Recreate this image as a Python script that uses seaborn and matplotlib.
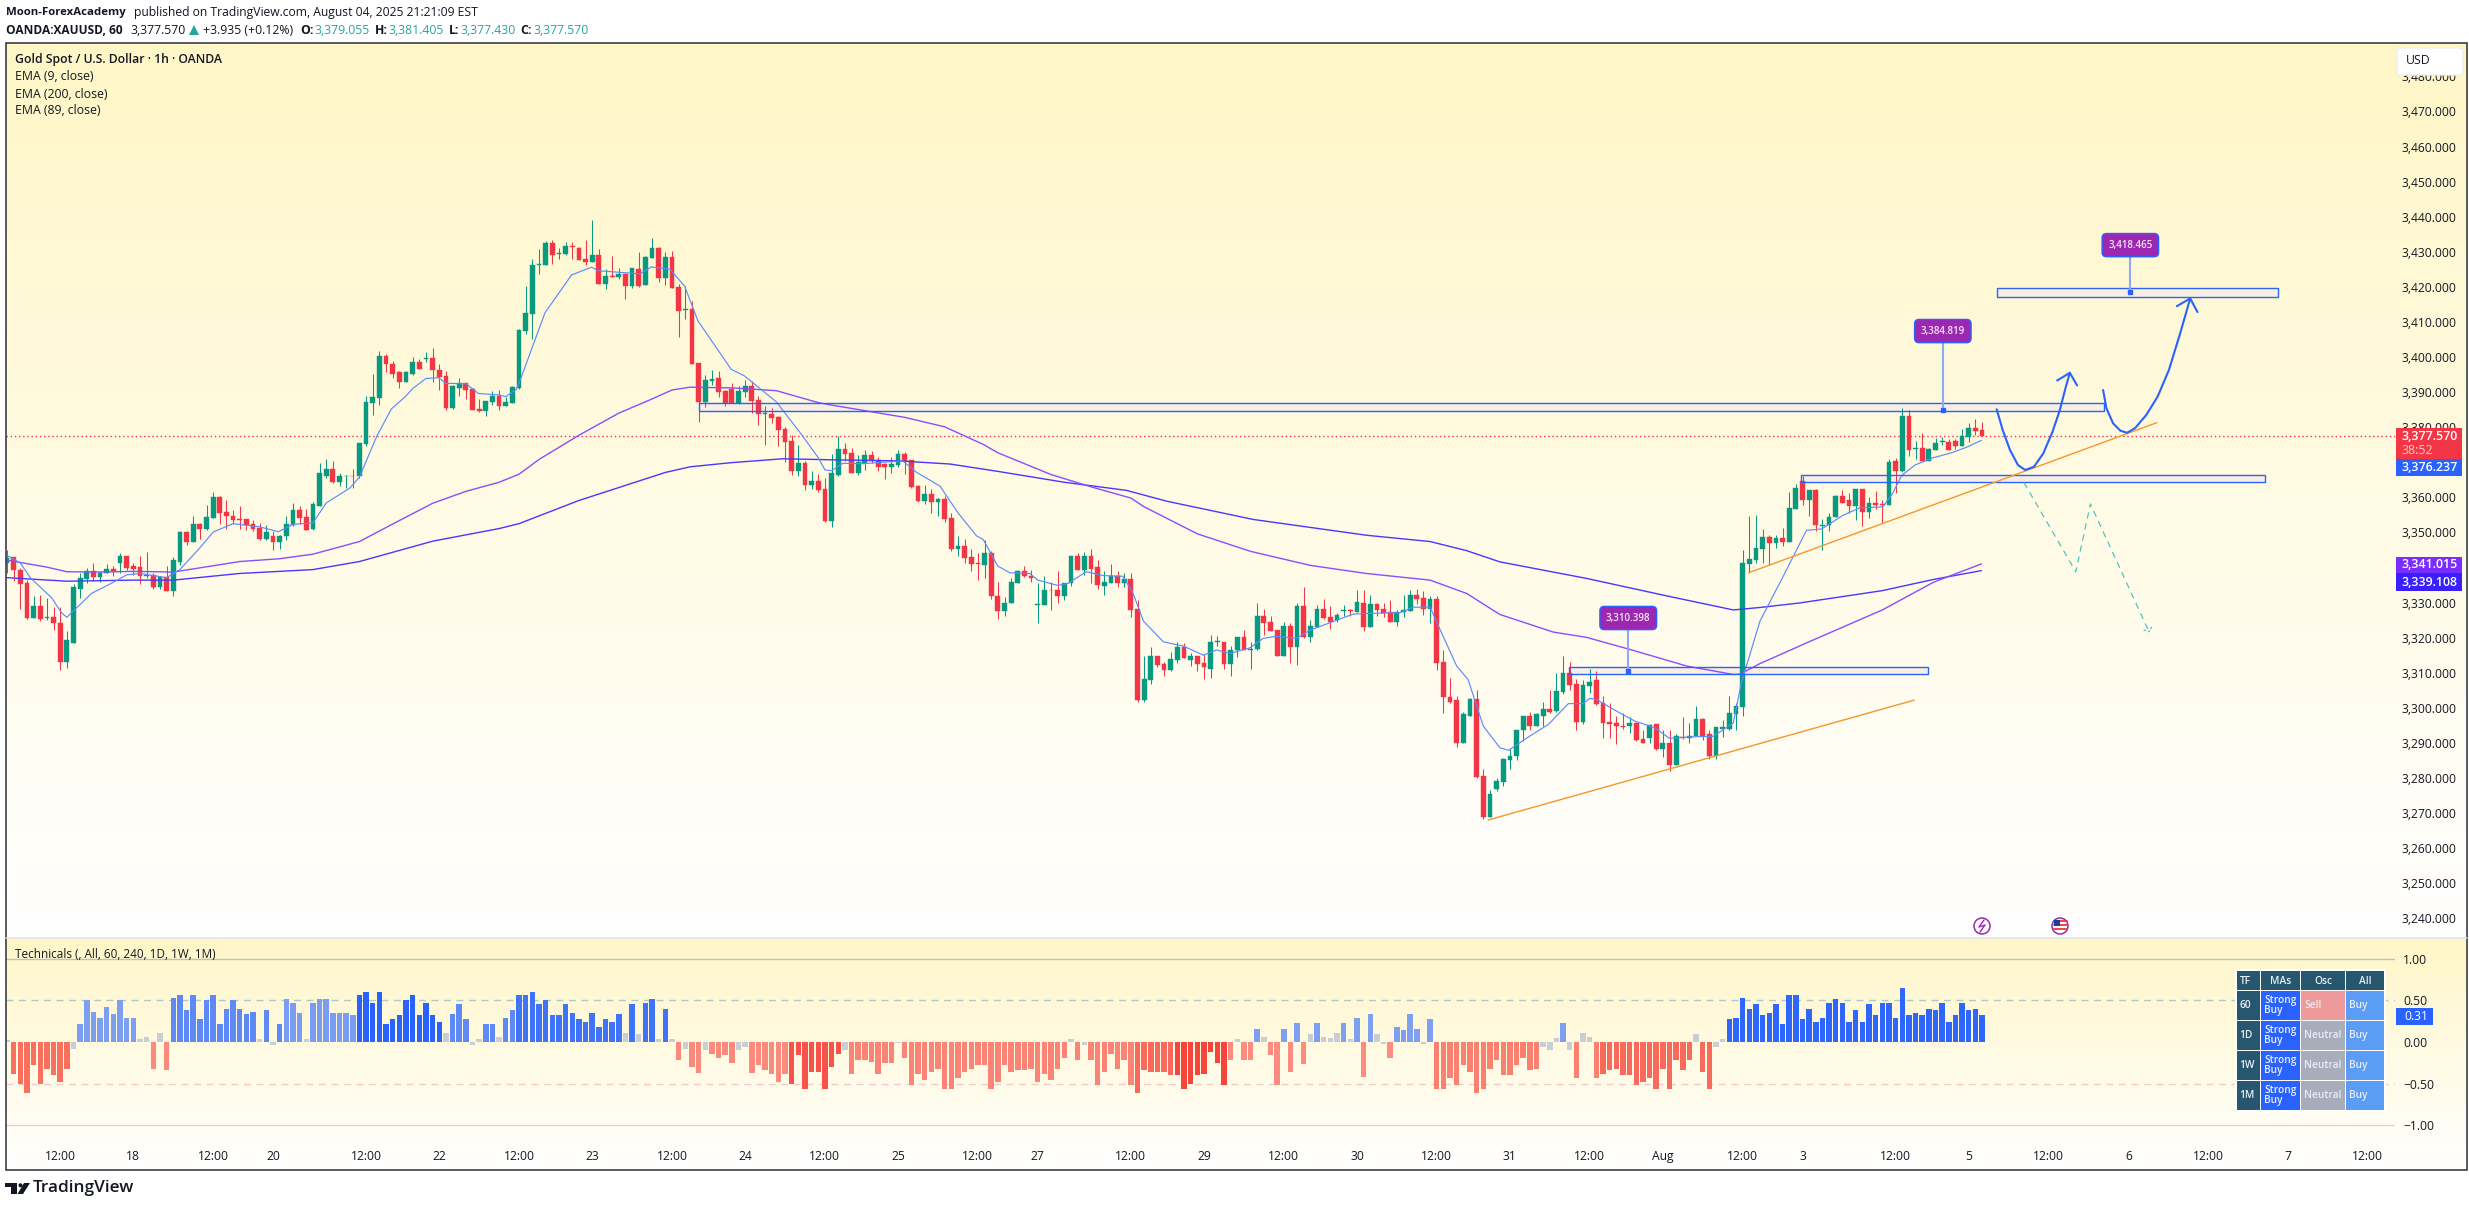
import numpy as np
import pandas as pd
import matplotlib
matplotlib.use('Agg')
import matplotlib.pyplot as plt
from matplotlib.patches import Rectangle, FancyBboxPatch, Circle, Polygon
from matplotlib.transforms import Affine2D
import seaborn as sns

# ── Candles (1h XAUUSD) ──────────────────────────────────────
opens = [
    3341.2,3342.9,3339.4,3335.5,3325.5,3328.9,3325.5,3325.8,3324.3,3313.0,
    3318.6,3334.0,3336.6,3338.9,3337.2,3338.3,3339.7,3341.2,3343.2,3340.3,
    3340.0,3337.6,3337.8,3334.3,3337.2,3333.2,3341.7,3350.0,3347.4,3352.3,
    3351.1,3354.0,3360.0,3355.7,3354.8,3353.7,3353.7,3352.3,3351.4,3348.0,
    3348.9,3347.4,3348.9,3352.0,3356.5,3354.3,3351.1,3357.4,3366.2,3368.2,
    3364.5,3366.0,3366.2,3366.0,3375.1,3387.0,3388.2,3400.4,3397.9,3395.6,
    3393.0,3395.3,3398.7,3399.3,3399.6,3396.4,3394.5,3385.6,3391.3,3392.5,
    3391.0,3385.3,3384.5,3387.3,3389.0,3386.0,3386.8,3391.1,3407.3,3412.2,
    3426.1,3426.1,3432.4,3429.3,3429.3,3431.6,3431.0,3427.8,3427.0,3429.0,
    3420.7,3423.0,3422.7,3423.6,3420.2,3425.0,3420.4,3428.1,3431.0,3422.4,
    3428.4,3419.9,3413.3,3413.6,3398.2,3387.1,3393.1,3393.9,3390.2,3390.8,
    3386.8,3389.9,3391.7,3387.7,3383.7,3383.7,3382.8,3379.4,3376.0,3367.4,
    3369.7,3363.4,3364.6,3362.3,3353.2,3366.3,3373.7,3372.6,3366.9,3369.7,
    3372.0,3370.6,3369.4,3368.6,3369.1,3372.3,3370.6,3363.2,3358.9,3360.9,
    3358.6,3359.4,3354.0,3345.2,3346.1,3342.9,3341.2,3340.6,3344.1,3332.0,
    3327.5,3329.8,3335.7,3338.9,3337.5,3329.2,3329.2,3333.7,3333.5,3331.8,
    3335.5,3343.2,3339.4,3343.4,3340.0,3334.6,3335.7,3337.7,3335.7,3336.6,
    3328.3,3302.1,3307.8,3314.9,3312.4,3310.7,3313.5,3317.2,3313.5,3314.7,
    3312.7,3311.2,3318.7,3318.9,3312.4,3316.4,3320.1,3316.6,3316.9,3326.3,
    3324.6,3322.1,3314.9,3323.2,3317.2,3328.9,3320.3,3322.9,3328.3,3325.8,
    3324.9,3327.5,3327.8,3327.2,3330.0,3322.9,3329.5,3328.3,3327.2,3324.6,
    3327.2,3327.5,3332.3,3331.2,3328.3,3330.9,3313.2,3303.0,3302.1,3290.1,
    3297.8,3302.4,3280.5,3269.0,3277.0,3278.8,3285.0,3286.2,3293.6,3297.6,
    3294.7,3297.8,3299.8,3299.0,3304.4,3309.8,3306.7,3296.1,3306.1,3307.8,
    3301.3,3296.1,3295.6,3294.8,3294.7,3295.6,3291.0,3291.3,3295.3,3288.4,
    3290.1,3283.6,3291.8,3291.3,3291.9,3296.7,3292.4,3286.4,3294.1,3294.1,
    3298.1,3300.1,3340.9,3342.2,3345.4,3348.6,3346.9,3348.3,3347.4,3356.8,
    3364.8,3359.1,3362.2,3351.9,3352.0,3354.3,3360.3,3359.1,3357.4,3362.5,
    3355.7,3358.5,3358.0,3357.7,3370.5,3367.4,3383.3,3373.8,3374.2,3370.5,
    3373.6,3375.8,3375.9,3376.2,3374.5,3377.1,3379.9,3379.055]
closes = [
    3342.8,3339.3,3335.3,3325.5,3328.9,3325.2,3325.8,3324.1,3313.0,3319.2,
    3334.3,3336.9,3338.9,3337.2,3338.5,3339.7,3338.9,3343.4,3340.0,3339.7,
    3337.5,3337.9,3334.3,3337.2,3333.2,3342.0,3350.0,3347.4,3352.3,3351.1,
    3354.3,3360.0,3355.4,3354.6,3353.4,3353.4,3352.0,3351.1,3348.0,3350.0,
    3347.4,3349.1,3352.3,3356.5,3354.0,3350.8,3358.0,3366.8,3368.2,3364.5,
    3366.0,3366.2,3366.0,3375.4,3387.3,3388.5,3400.2,3397.9,3395.3,3393.0,
    3395.6,3398.7,3396.7,3399.6,3396.2,3394.2,3385.6,3391.6,3392.5,3390.7,
    3385.0,3384.5,3387.6,3389.0,3385.9,3387.1,3391.4,3407.6,3412.5,3426.1,
    3426.4,3432.4,3429.0,3429.6,3431.6,3431.3,3427.6,3427.0,3429.0,3420.7,
    3423.0,3422.7,3423.6,3420.2,3425.3,3420.2,3428.4,3431.0,3422.4,3428.4,
    3419.6,3413.0,3413.6,3397.9,3387.1,3393.4,3393.6,3389.9,3386.8,3386.8,
    3390.2,3391.7,3387.4,3383.7,3384.0,3382.5,3379.1,3375.7,3367.4,3369.7,
    3363.4,3364.6,3362.0,3353.2,3366.9,3373.7,3372.3,3366.9,3370.0,3372.0,
    3370.3,3368.6,3368.6,3369.4,3372.3,3370.3,3362.9,3358.9,3360.9,3358.6,
    3359.4,3353.7,3345.2,3346.1,3342.6,3340.9,3340.9,3344.1,3331.9,3327.6,
    3330.0,3336.0,3338.9,3337.5,3336.9,3329.5,3333.7,3333.5,3331.8,3335.7,
    3343.4,3339.4,3343.4,3339.7,3334.9,3336.0,3337.7,3335.7,3336.6,3328.0,
    3302.1,3308.1,3314.9,3312.1,3310.7,3313.8,3317.2,3314.1,3314.7,3312.4,
    3311.5,3318.9,3319.0,3312.4,3316.6,3320.1,3316.6,3316.9,3326.3,3324.3,
    3321.8,3314.9,3323.2,3317.2,3328.9,3320.3,3323.2,3328.3,3325.5,3324.6,
    3326.6,3327.8,3327.5,3330.3,3322.9,3329.5,3328.0,3326.9,3324.6,3327.2,
    3327.8,3332.3,3330.9,3328.3,3330.9,3312.9,3303.0,3301.8,3290.1,3298.1,
    3302.4,3280.2,3269.0,3275.3,3279.0,3285.3,3286.4,3293.8,3297.6,3294.7,
    3298.1,3299.8,3298.7,3304.7,3309.8,3306.4,3296.1,3306.4,3307.5,3301.0,
    3295.8,3295.3,3294.7,3294.5,3295.8,3290.7,3289.9,3295.0,3288.4,3290.1,
    3283.6,3291.9,3291.5,3292.1,3296.7,3292.1,3286.4,3294.4,3294.4,3298.4,
    3300.4,3341.2,3342.3,3345.7,3348.6,3347.1,3348.3,3347.4,3357.1,3362.8,
    3359.1,3362.2,3352.0,3352.2,3354.3,3360.3,3358.5,3357.4,3362.5,3355.7,
    3358.5,3357.7,3357.7,3370.2,3367.4,3383.3,3373.6,3374.1,3370.5,3373.9,
    3375.6,3376.1,3373.4,3374.5,3377.4,3379.9,3378.8,3377.57]
highs = [
    3344.9,3342.9,3339.9,3336.3,3332.0,3332.3,3331.2,3328.6,3328.6,3321.8,
    3335.2,3338.5,3340.0,3341.2,3338.9,3340.9,3340.4,3344.0,3343.4,3341.4,
    3343.2,3344.3,3338.5,3337.5,3340.3,3342.9,3350.3,3350.3,3354.8,3352.8,
    3357.7,3361.4,3360.3,3359.1,3356.3,3357.4,3353.7,3353.4,3352.8,3352.0,
    3350.3,3349.4,3354.6,3358.5,3357.4,3356.8,3358.8,3369.7,3370.8,3370.5,
    3366.8,3366.5,3368.2,3375.6,3388.8,3395.3,3401.6,3401.0,3399.0,3395.9,
    3395.9,3399.9,3399.3,3401.3,3402.7,3397.9,3395.9,3391.9,3393.9,3392.5,
    3391.3,3387.9,3387.6,3390.2,3390.7,3388.6,3391.7,3407.9,3420.2,3427.8,
    3430.7,3433.0,3433.5,3431.0,3432.7,3432.7,3431.3,3433.3,3439.0,3430.7,
    3425.0,3428.7,3425.3,3423.9,3425.3,3429.8,3428.7,3433.8,3431.3,3429.8,
    3430.1,3420.7,3420.2,3415.9,3398.2,3394.8,3396.2,3395.9,3390.5,3392.5,
    3391.7,3393.4,3393.1,3388.8,3386.0,3385.4,3383.1,3380.0,3377.7,3374.8,
    3370.3,3367.4,3366.6,3365.4,3372.3,3377.4,3375.4,3374.0,3372.0,3373.4,
    3373.1,3371.4,3369.7,3371.4,3373.4,3372.8,3370.6,3363.4,3363.4,3362.3,
    3359.7,3360.3,3355.5,3348.9,3348.1,3345.2,3344.1,3347.8,3344.6,3336.0,
    3331.5,3336.9,3339.4,3340.3,3339.2,3335.5,3337.5,3336.0,3338.9,3335.7,
    3343.4,3344.0,3344.3,3345.4,3342.0,3338.9,3340.9,3338.9,3338.3,3338.3,
    3330.6,3314.9,3317.2,3314.9,3313.2,3315.8,3318.9,3318.6,3315.5,3314.7,
    3315.2,3320.9,3320.4,3318.9,3317.5,3320.1,3322.3,3318.9,3330.0,3328.3,
    3326.3,3322.3,3324.6,3324.3,3329.8,3334.3,3324.9,3329.2,3330.9,3328.9,
    3326.9,3329.2,3328.3,3333.7,3333.5,3332.3,3330.0,3329.8,3330.6,3327.8,
    3332.3,3333.5,3334.0,3333.2,3331.8,3332.0,3316.4,3308.4,3303.5,3298.7,
    3302.7,3305.2,3282.7,3276.5,3279.9,3285.8,3288.4,3293.8,3297.6,3298.7,
    3298.4,3301.8,3305.2,3309.8,3314.9,3313.2,3308.1,3307.8,3311.2,3310.4,
    3303.3,3301.3,3297.8,3298.4,3297.3,3296.1,3293.8,3295.3,3295.3,3293.8,
    3293.6,3292.4,3297.3,3295.6,3300.4,3297.0,3293.6,3294.4,3296.4,3303.3,
    3301.5,3345.1,3354.8,3355.1,3351.1,3349.4,3349.4,3351.4,3361.4,3363.7,
    3366.2,3362.2,3362.5,3353.7,3355.4,3360.8,3362.2,3361.1,3362.5,3362.5,
    3360.0,3361.7,3359.1,3370.8,3371.1,3385.6,3384.8,3376.2,3378.2,3374.2,
    3376.8,3377.1,3376.5,3376.5,3379.6,3381.3,3382.2,3381.405]
lows = [
    3338.5,3336.1,3328.3,3325.2,3325.5,3324.7,3324.9,3322.3,3310.9,3311.3,
    3318.4,3331.2,3335.6,3336.1,3335.8,3338.3,3337.5,3338.3,3339.4,3338.0,
    3335.2,3337.1,3334.0,3333.8,3333.2,3331.8,3340.6,3346.3,3347.4,3348.0,
    3350.8,3354.0,3352.3,3351.1,3352.3,3351.1,3350.6,3350.3,3347.7,3347.7,
    3344.9,3345.4,3347.7,3351.7,3352.3,3350.8,3350.6,3357.4,3365.4,3364.0,
    3363.1,3362.8,3362.8,3365.4,3374.5,3383.6,3386.2,3395.6,3393.9,3391.3,
    3393.0,3395.0,3396.7,3398.7,3393.0,3390.5,3385.0,3385.3,3388.8,3387.9,
    3384.8,3384.2,3383.3,3386.2,3384.8,3386.0,3386.8,3390.8,3406.5,3405.0,
    3423.6,3426.1,3426.4,3427.8,3429.0,3427.8,3427.6,3426.1,3427.0,3420.7,
    3419.3,3422.7,3422.1,3416.4,3419.6,3419.9,3420.4,3428.1,3421.3,3420.4,
    3419.6,3405.6,3410.7,3397.9,3381.4,3385.7,3391.9,3388.5,3386.0,3386.8,
    3386.5,3388.5,3384.0,3380.5,3374.8,3381.1,3374.6,3370.0,3366.3,3366.0,
    3362.0,3362.3,3361.4,3352.9,3351.5,3366.0,3370.3,3366.9,3366.3,3367.7,
    3369.7,3367.4,3365.1,3366.9,3368.6,3366.6,3362.6,3358.6,3358.0,3355.5,
    3354.6,3352.9,3344.6,3343.2,3341.2,3339.0,3336.4,3336.9,3330.9,3325.2,
    3326.3,3329.8,3335.7,3337.2,3336.0,3324.1,3329.2,3327.8,3330.0,3330.6,
    3334.6,3339.4,3338.0,3335.7,3334.0,3332.3,3335.7,3334.3,3334.3,3325.8,
    3301.8,3301.8,3306.7,3311.5,3309.0,3310.4,3312.9,3314.1,3311.8,3310.4,
    3308.1,3308.4,3317.5,3311.2,3309.0,3314.4,3316.4,3311.2,3316.6,3320.9,
    3321.8,3314.9,3314.9,3312.9,3312.1,3319.8,3318.9,3322.9,3325.2,3322.6,
    3324.6,3326.1,3326.3,3327.2,3321.8,3322.9,3326.3,3325.8,3324.6,3323.2,
    3325.8,3327.5,3329.5,3326.6,3324.1,3310.7,3298.4,3301.3,3288.7,3290.1,
    3297.8,3279.9,3268.2,3269.0,3276.2,3277.6,3282.7,3285.0,3290.4,3293.6,
    3294.7,3294.7,3298.4,3298.7,3303.8,3305.0,3293.8,3295.3,3304.1,3300.7,
    3291.3,3291.3,3289.6,3294.1,3292.7,3290.4,3289.9,3289.9,3288.1,3285.9,
    3281.9,3283.6,3291.0,3290.1,3291.9,3290.7,3285.3,3285.3,3291.6,3293.6,
    3293.8,3297.6,3338.6,3341.2,3341.4,3340.6,3345.7,3346.0,3347.4,3356.8,
    3357.7,3354.6,3350.3,3344.9,3350.3,3354.3,3358.5,3355.4,3353.4,3351.7,
    3354.0,3356.8,3352.8,3357.7,3361.1,3367.1,3371.9,3370.8,3370.5,3370.5,
    3373.6,3374.8,3373.4,3373.7,3374.5,3375.9,3377.9,3377.43]

ema9_bar = [0,2,3.5,6.7,8.2,9,10.2,12.7,16,18,20,24,26,29,31,34,38,40.8,43,46,48,51.6,53,55.6,57.8,59.9,61,63,64.9,66,69,70.9,74,
            75,76.6,77.4,80.9,84.9,87.9,88.9,95.2,96.9,99.7,101.9,103.9,108.9,110.9,115.7,119.2,122,123,124,125.7,128.7,134.7,136.8,140.3,143,145.8,146.8,149,
            150.8,153.8,155,158,159.6,162.3,164.8,167.8,169.3,170.9,173.9,176.9,179.9,181.9,183.9,186.9,188.9,190.9,193.9,195.9,202.4,204.4,209.4,211.5,214,215.5,218,219.7,222,224.5,
            225.8,228.8,231.8,234.8,237,238,239,242,244.8,247.8,250,253,256.6,259.6,260.8,263.6,267.1,270.6,272.9,276.1,278.6,282.1,283.6,284.9,286.9,289.7,292.4,294.7,296.9]
ema9_val = [3343.4,3341.3,3337.1,3331.4,3327.1,3325.8,3328.0,3332.6,3335.8,3337.9,3338.3,3337.1,3339.4,3345.6,3350.1,3352.5,3351.6,3350.2,3352.3,3352.7,3358.4,3362.7,3365.8,3377.4,3385.2,3388.7,3391.0,3393.9,3394.1,3392.5,3392.4,3389.6,3389.2,
            3388.7,3390.8,3394.6,3412.6,3423.4,3425.6,3424.6,3423.7,3425.7,3425.0,3420.2,3410.3,3396.5,3394.6,3387.2,3378.6,3371.3,3367.8,3367.6,3369.7,3369.6,3370.4,3367.1,3363.2,3355.6,3349.0,3348.0,3340.4,
            3338.5,3338.3,3336.4,3334.9,3335.5,3338.8,3337.7,3337.5,3332.8,3324.7,3318.8,3317.6,3315.0,3316.5,3315.5,3317.1,3319.8,3320.4,3319.8,3322.1,3326.7,3326.9,3327.1,3328.7,3328.7,3322.3,3311.9,3308.1,3294.8,3288.6,
            3287.9,3291.7,3295.3,3301.2,3301.2,3302.7,3302.4,3299.1,3296.2,3294.3,3291.3,3291.7,3291.9,3295.7,3307.1,3324.7,3337.5,3350.6,3351.0,3354.9,3357.0,3357.3,3361.3,3366.2,3369.2,3371.3,3372.7,3374.3,3376.237]
ema89_bar = [0,1.5,6,9,14,19,25,30,35,41,46,53,58,64,69,74,77,80,86,92,96.7,100,102.7,109,115.7,122,124,135,141,146.8,149,
             157,163,169,171,179,187,196,204.4,214,219.5,224.5,232.5,237.5,244.5,252.6,259.6,260.6,263.6,270.6,282,289.7,296.9]
ema89_val = [3342.1,3341.6,3340.1,3338.8,3338.7,3338.9,3338.7,3340.2,3341.7,3342.5,3343.8,3347.4,3352.4,3358.3,3361.7,3364.3,3366.6,3370.8,3377.7,3384.0,3387.8,3390.6,3391.4,3391.2,3390.4,3387.0,3386.3,3382.8,3380.1,3375.1,3372.7,
             3366.5,3363.0,3359.8,3357.3,3349.6,3344.6,3340.6,3338.3,3336.4,3332.6,3326.6,3321.6,3320.1,3316.4,3311.9,3309.5,3309.6,3312.6,3318.5,3327.9,3335.8,3341.015]
ema200_bar = [0,9,19,25,35,46,53,64,74,77,86,99,102.7,109,116.7,124,134,141.8,149,159,168.3,174.4,187.4,204.4,214,219.5,224.5,237.5,249.6,259.6,263.6,269.6,282,289.7,296.9]
ema200_val = [3337.1,3336.1,3336.4,3336.4,3338.3,3339.4,3341.7,3347.5,3351.1,3352.5,3359.1,3367.1,3368.7,3369.9,3371.0,3370.7,3370.4,3369.5,3367.4,3364.3,3362.0,3358.9,3353.7,3349.2,3347.4,3344.8,3341.6,3336.9,3331.9,3327.9,3328.6,3329.9,3333.4,3336.6,3339.108]

# ── Technicals histogram ─────────────────────────────────────
tech_vals = [
    0.02,-.38,-.50,-.61,-.27,-.50,-.32,-.40,-.48,-.32,
    -.08,.21,.50,.36,.29,.42,.34,.50,.29,.29,
    .03,.06,-.32,.11,-.34,.53,.56,.38,.56,.27,
    .50,.56,.22,.40,.50,.40,.34,.36,.04,.38,
    -.03,.22,.51,.47,.35,.04,.47,.51,.51,.35,
    .35,.35,.32,.56,.60,.47,.60,.22,.27,.32,
    .50,.56,.32,.47,.32,.24,.11,.34,.45,.27,
    -.03,.03,.21,.21,.06,.29,.38,.56,.56,.60,
    .45,.50,.32,.32,.45,.35,.27,.24,.35,.18,
    .27,.24,.34,.11,.45,.09,.47,.51,.04,.40,
    .03,-.21,-.08,-.30,-.37,-.09,-.14,-.19,-.16,-.25,
    -.09,-.06,-.37,-.27,-.34,-.38,-.48,-.38,-.50,-.16,
    -.56,-.36,-.36,-.56,-.30,-.14,-.09,-.38,-.22,-.21,
    -.24,-.38,-.25,-.25,-.01,-.19,-.51,-.38,-.45,-.36,
    -.32,-.56,-.56,-.43,-.36,-.32,-.27,-.27,-.56,-.48,
    -.27,-.36,-.34,-.34,-.32,-.48,-.38,-.45,-.32,-.19,
    .03,-.21,-.03,-.21,-.51,-.36,-.14,-.32,-.22,-.51,
    -.61,-.33,-.36,-.36,-.36,-.40,-.40,-.56,-.50,-.40,
    -.38,-.12,-.25,-.51,-.22,.03,-.21,-.21,.16,.06,
    -.16,-.51,.16,-.36,.23,-.26,.09,.23,.06,.05,
    .11,.23,.03,.29,-.42,.34,.09,-.02,-.19,.18,
    .14,.34,.16,-.02,.27,-.56,-.56,-.43,-.51,-.27,
    -.36,-.61,-.56,-.32,-.22,-.40,-.40,-.27,-.19,-.34,
    -.32,-.06,-.09,.05,.23,-.10,-.43,.11,.06,-.43,
    -.38,-.34,-.32,-.40,-.40,-.51,-.48,-.43,-.56,-.32,
    -.56,-.22,-.34,-.22,.09,-.36,-.56,-.06,.03,.27,
    .29,.53,.40,.45,.32,.35,.45,.22,.56,.56,
    .27,.40,.24,.29,.47,.51,.47,.24,.38,.24,
    .45,.32,.47,.47,.29,.65,.32,.35,.32,.40,
    .38,.47,.24,.32,.47,.38,.40,.32]

# ── Axis labels ──────────────────────────────────────────────
# 3,340 and 3,370 sit fully behind the price tags on the chart, so no labels there
price_ticks = [3240,3250,3260,3270,3280,3290,3300,3310,3320,3330,3350,3360,
               3380,3390,3400,3410,3420,3430,3440,3450,3460,3470,3480]
tech_ticks = [1.0, 0.5, 0.0, -0.5, -1.0]
time_bars = [8,19,31,40,54,65,77,88,100,111,123,134,146,155,169,180,192,203,215,226,238,249,261,270,284,295,307,319,331,343,355]
time_labels = ['12:00','18','12:00','20','12:00','22','12:00','23','12:00','24','12:00','25','12:00','27','12:00','29',
               '12:00','30','12:00','31','12:00','Aug','12:00','3','12:00','5','12:00','6','12:00','7','12:00']
last_price = 3377.57

# ── Drawings on the chart ────────────────────────────────────
zones = [(104.0, 315.3, 3384.5, 3386.8), (299.3, 341.5, 3417.0, 3419.6),
         (269.8, 339.5, 3364.3, 3366.3), (234.9, 288.9, 3309.6, 3311.6)]
callouts = [('3,310.398', 243.8, 3310.398, 3325.6),
            ('3,384.819', 291.1, 3384.819, 3407.4),
            ('3,418.465', 319.3, 3418.465, 3431.9)]
trend_bars = [(222.7, 286.8), (261.9, 323.3)]
trend_vals = [(3268.0, 3302.2), (3338.5, 3381.3)]
curve1_bar = [299.2,300.1,301.2,302.4,303.5,304.8,306.2,307.6,308.7,309.6,310.2]
curve1_val = [3385.1,3379.2,3373.5,3369.2,3367.8,3368.7,3372.5,3378.7,3384.9,3391.5,3395.5]
head1_bar = [308.3,310.2,311.3]
head1_val = [3393.3,3395.5,3391.9]
curve2_bar = [315.2,315.7,316.7,317.8,318.8,320.0,321.7,323.4,325.1,326.8,328.3]
curve2_val = [3390.6,3385.4,3381.1,3379.0,3378.4,3379.7,3383.5,3388.7,3396.3,3406.8,3416.7]
head2_bar = [326.3,328.3,329.4]
head2_val = [3414.5,3416.7,3412.8]
dash_bar = [303.3,311.1,313.3,322.1]
dash_val = [3364.2,3338.8,3358.1,3321.7]
dash_head_bar = [321.3,322.1,322.6]
dash_head_val = [3322.2,3321.7,3323.3]

# ── Table in the lower pane ──────────────────────────────────
table_head = ['TF', 'MAs', 'Osc', 'All']
table_tf = ['60', '1D', '1W', '1M']
table_mas = ['Strong\nBuy', 'Strong\nBuy', 'Strong\nBuy', 'Strong\nBuy']
table_osc = ['Sell', 'Neutral', 'Neutral', 'Neutral']
table_all = ['Buy', 'Buy', 'Buy', 'Buy']

# ── Colours ──────────────────────────────────────────────────
UP, DOWN = '#089981', '#f23645'
BLUE = '#2962ff'
TEXT = '#131722'
cell_colors = {'Strong\nBuy': BLUE, 'Buy': '#5b9cf6', 'Sell': '#ef9a9a', 'Neutral': '#a8adbb'}

blue_breaks = [0, 25, 42, 53, 66, 77, 101, 259]
blue_shades = ['#7c9ff2', '#5f8af6', '#7a9df2', '#2a62fe', '#5f8af6', '#3f73fa', '#7f9ff0', '#2f66fe']
red_breaks = [0, 22, 101, 118, 126, 170, 176, 184, 215, 240]
red_shades = ['#f9705f', '#fb8a7c', '#f98a7c', '#f9524a', '#fb8476', '#f96a5c', '#f8453a', '#fb8c7f', '#fa8070', '#f86a5b']


def tech_color(i, v):
    if abs(v) < 0.12:
        return '#c9cdd4'
    if v > 0:
        return blue_shades[np.searchsorted(blue_breaks, i, side='right') - 1]
    return red_shades[np.searchsorted(red_breaks, i, side='right') - 1]


# ── Figure ───────────────────────────────────────────────────
sns.set_theme(style='white')
plt.rcParams['font.family'] = ['Open Sans', 'DejaVu Sans']
plt.rcParams['axes.unicode_minus'] = True

W, H = 2469, 1207
L, R, TOP, SEP, LOW, BOT = 6, 2395, 43, 938, 1142, 1170
FS = 8.7
fig = plt.figure(figsize=(W / 100, H / 100), dpi=100, facecolor='white')
px = Affine2D().scale(1, -1).translate(0, H)   # image pixels to display


def axes_px(x0, y0, x1, y1, **kw):
    return fig.add_axes([x0 / W, 1 - y1 / H, (x1 - x0) / W, (y1 - y0) / H], **kw)


# gradient behind both panes
for y0, y1 in [(TOP, SEP), (SEP, BOT)]:
    bg = axes_px(L, y0, 2467, y1, zorder=0)
    grad = np.linspace(0, 1, 256)[:, None]
    rgb = np.dstack([np.full_like(grad, 1.0), 0.965 + 0.035 * grad, 0.78 + 0.22 * grad])
    bg.imshow(rgb, aspect='auto', interpolation='bilinear')
    bg.axis('off')

# ── Main pane ────────────────────────────────────────────────
ax = axes_px(L, TOP, R, SEP, zorder=1)
ax.patch.set_alpha(0)
for x0, x1, p0, p1 in zones:
    ax.add_patch(Rectangle((x0, p0), x1 - x0, p1 - p0, fc='#f8efe2', ec='none', zorder=1))

bars = np.arange(len(opens))
o, c, h, l = map(np.array, (opens, closes, highs, lows))
up = c >= o
ax.vlines(bars[up], l[up], h[up], color=UP, lw=0.75, zorder=2)
ax.vlines(bars[~up], l[~up], h[~up], color=DOWN, lw=0.75, zorder=2)
ax.bar(bars[up], (c - o)[up], bottom=o[up], width=0.72, color=UP, edgecolor=UP, lw=0.3, zorder=2.2)
ax.bar(bars[~up], (o - c)[~up], bottom=c[~up], width=0.72, color=DOWN, edgecolor=DOWN, lw=0.3, zorder=2.2)

for xs, ys, col, lw in [(ema200_bar, ema200_val, '#4a36ff', 1.0),
                        (ema89_bar, ema89_val, '#8a4dff', 1.0),
                        (ema9_bar, ema9_val, '#5b8cff', 0.85)]:
    sns.lineplot(data=pd.DataFrame({'bar': xs, 'price': ys}), x='bar', y='price', color=col,
                 linewidth=lw, estimator=None, errorbar=None, ax=ax, zorder=3)

ax.axhline(last_price, color=DOWN, lw=1.0, ls=(0, (1, 2)), zorder=1.5)

for x0, x1, p0, p1 in zones:
    ax.add_patch(Rectangle((x0, p0), x1 - x0, p1 - p0, fc='none', ec=BLUE, lw=1.0, zorder=4))
for xs, ys in zip(trend_bars, trend_vals):
    ax.plot(xs, ys, color='#f7962b', lw=1.0, zorder=4)
for xs, ys in [(curve1_bar, curve1_val), (head1_bar, head1_val), (curve2_bar, curve2_val), (head2_bar, head2_val)]:
    ax.plot(xs, ys, color=BLUE, lw=1.5, zorder=4)
ax.plot(dash_bar, dash_val, color='#4fc3c7', lw=0.9, ls=(0, (5, 4)), zorder=4)
ax.plot(dash_head_bar, dash_head_val, color='#4fc3c7', lw=0.9, ls=(0, (2, 1.5)), zorder=4)

for text, x, p, p_text in callouts:
    ax.plot([x, x], [p, p_text], color='#8ca9fb', lw=1.5, zorder=4.5)
    ax.plot([x], [p], marker='s', ms=3.2, color=BLUE, zorder=5)
    ax.text(x, p_text, text, color='#f3e5f5', fontsize=7.1, ha='center', va='center', zorder=6, fontweight='semibold',
            bbox=dict(boxstyle='round,pad=0.62,rounding_size=0.45', fc='#9c27b0', ec=BLUE, lw=1.0))

ax.set_xlim((L - 7) / 6.65, (R - 7) / 6.65)
ax.set_ylim(3440 - (SEP - 216.7) / 3.508, 3440 + (216.7 - TOP) / 3.508)
ax.set_yticks(price_ticks)
ax.set_yticklabels([f'{p:,.3f}' for p in price_ticks], fontsize=FS, color=TEXT)
ax.yaxis.tick_right()
ax.tick_params(axis='y', length=0, pad=5)
ax.set_xticks([])
ax.set_xlabel('')
ax.set_ylabel('')
sns.despine(ax=ax, left=True, right=True, top=True, bottom=True)

# ── Technicals pane ──────────────────────────────────────────
ax2 = axes_px(L, SEP, R, LOW, zorder=1)
ax2.patch.set_alpha(0)
sns.barplot(x=bars, y=tech_vals, native_scale=True, width=0.82, errorbar=None, ax=ax2, zorder=2)
for patch, (i, v) in zip(ax2.patches, enumerate(tech_vals)):
    patch.set_facecolor(tech_color(i, v))
    patch.set_edgecolor('none')
ax2.axhline(1.0, color='#a9c9cf', lw=1.0, zorder=1)
ax2.axhline(0.5, color='#a9c9cf', lw=1.0, ls=(0, (5, 4)), zorder=1)
ax2.axhline(-0.5, color='#f6c9c6', lw=1.0, ls=(0, (5, 4)), zorder=1)
ax2.axhline(-1.0, color='#f6c9c6', lw=1.0, zorder=1)
ax2.set_xlim((L - 7) / 6.65, (R - 7) / 6.65)
ax2.set_ylim(-(LOW - 1042) / 83.35, (1042 - SEP) / 83.35)
ax2.set_yticks(tech_ticks)
ax2.set_yticklabels([f'{v:.2f}'.replace('-', '\u2212') for v in tech_ticks], fontsize=FS, color=TEXT)
ax2.yaxis.tick_right()
ax2.tick_params(axis='y', length=0, pad=6)
ax2.set_xticks(time_bars)
ax2.set_xticklabels(time_labels, fontsize=FS, color=TEXT)
ax2.tick_params(axis='x', length=0, pad=6)
ax2.set_xlabel('')
ax2.set_ylabel('')
sns.despine(ax=ax2, left=True, right=True, top=True, bottom=True)


# ── Everything placed by image pixels ────────────────────────
def put(x, y, s, size=FS, color=TEXT, weight='normal', ha='left', va='center', z=8):
    return fig.text(x, y, s, transform=px, fontsize=size, color=color, fontweight=weight, ha=ha, va=va, zorder=z)


def box(x0, y0, x1, y1, fc, z=6, ec='none', lw=0):
    fig.add_artist(Rectangle((x0, y0), x1 - x0, y1 - y0, transform=px, fc=fc, ec=ec, lw=lw, zorder=z))


# frame and pane separator
fig.add_artist(Rectangle((L, TOP), 2467 - L, BOT - TOP, transform=px, fc='none', ec='#2a2e39', lw=1.1, zorder=7))
fig.add_artist(plt.Line2D([L, 2467], [SEP, SEP], transform=px, color='#e0e3eb', lw=1.1, zorder=7))

# header
put(6, 12.5, 'Moon-ForexAcademy', size=8.2, weight='bold')
put(134, 12.5, 'published on TradingView.com, August 04, 2025 21:21:09 EST', size=8.7)
put(6, 30, 'OANDA:XAUUSD, 60', size=8.6, weight='bold')
put(130, 30, '3,377.570', size=8.8)
fig.add_artist(Polygon([[189, 35], [199, 35], [194, 25]], closed=True, transform=px, fc='#26a69a', ec='none', zorder=8))
put(203, 30, '+3.935 (+0.12%)', size=8.8)
for x_lab, lab, x_val, val in [(300, 'O:', 314, '3,379.055'), (375, 'H:', 388, '3,381.405'),
                               (449, 'L:', 460, '3,377.430'), (520, 'C:', 533, '3,377.570')]:
    put(x_lab, 30, lab, size=8.8, weight='bold')
    put(x_val, 30, val, size=8.8, color='#26a69a')

# legend block
put(15, 60, 'Gold Spot / U.S. Dollar \u00b7 1h \u00b7 OANDA', size=8.8, weight='semibold')
put(15, 77, 'EMA (9, close)', size=8.8)
put(15, 94, 'EMA (200, close)', size=8.8)
put(15, 111, 'EMA (89, close)', size=8.8)
put(15, 955, 'Technicals (, All, 60, 240, 1D, 1W, 1M)', size=8.5)

# USD box
fig.add_artist(FancyBboxPatch((2400, 51), 60, 21, boxstyle='round,pad=3,rounding_size=4', transform=px,
                              fc='white', ec='#eceef2', lw=1, zorder=8))
put(2406, 61, 'USD', size=8.8, z=9)

# price tags on the axis
box(2396, 428, 2462, 459, DOWN)
put(2402, 436, '3,377.570', color='white', weight='semibold', size=8.9, z=9)
put(2402, 450, '38:52', color='#fbc9cd', size=8.9, z=9)
box(2396, 459, 2462, 476, BLUE)
put(2402, 467.5, '3,376.237', color='white', weight='semibold', size=8.9, z=9)
box(2396, 557, 2462, 573, '#7b2dff')
put(2402, 565, '3,341.015', color='white', weight='semibold', size=8.9, z=9)
box(2396, 573, 2462, 591, '#3a1fff')
put(2402, 582, '3,339.108', color='white', weight='semibold', size=8.9, z=9)
box(2396, 1008, 2433, 1025, BLUE)
put(2404, 1016.5, '0.31', color='white', size=FS, z=9)

# technicals table
box(2235, 969, 2386, 1111, 'white')
col_edges = [(2236.5, 2260.4), (2261.4, 2300.3), (2301.4, 2345.4), (2346.4, 2384.3)]
row_edges = [(970.7, 990), (991, 1020), (1021, 1050), (1051, 1080), (1081, 1110)]
for (x0, x1), name in zip(col_edges, table_head):
    box(x0, row_edges[0][0], x1, row_edges[0][1], '#27566f', z=7)
    put(x0 + 3 if name == 'TF' else (x0 + x1) / 2, 981, name, size=7.3, color='#e8eef6', weight='semibold',
        ha='left' if name == 'TF' else 'center', z=9)
for (y0, y1), tf, mas, osc, al in zip(row_edges[1:], table_tf, table_mas, table_osc, table_all):
    ym = (y0 + y1) / 2
    box(col_edges[0][0], y0, col_edges[0][1], y1, '#27566f', z=7)
    put(col_edges[0][0] + 3, ym, tf, size=7.3, color='#e8eef6', weight='semibold', z=9)
    for (x0, x1), val in zip(col_edges[1:], (mas, osc, al)):
        box(x0, y0, x1, y1, cell_colors[val], z=7)
        put(x0 + 3, ym, val, size=7.3, color='#e8eef6', weight='semibold', z=9).set_linespacing(0.95)

# event icons
fig.add_artist(Circle((1982, 926), 8, transform=px, fc='white', ec='#9c27b0', lw=1.1, zorder=8))
fig.add_artist(plt.Line2D([1984, 1979, 1985, 1980], [920, 927, 925, 932], transform=px, color='#9c27b0', lw=1.0, zorder=9))
fig.add_artist(Circle((2060, 926), 8, transform=px, fc='white', ec='#9c27b0', lw=1.1, zorder=8))
for yy in (921, 925, 929):
    fig.add_artist(plt.Line2D([2054, 2067], [yy, yy], transform=px, color='#e53935', lw=1.3, zorder=9))
box(2054, 920, 2060, 926, '#1a3d8f', z=9)

# logo
box(5, 1183, 17, 1187, '#131722', z=8)
box(11, 1183, 17, 1194, '#131722', z=8)
fig.add_artist(Circle((20.5, 1185.3), 2, transform=px, fc='#131722', ec='none', zorder=8))
fig.add_artist(Polygon([[24, 1183], [30, 1183], [23, 1194], [17.5, 1194]], closed=True, transform=px, fc='#131722', ec='none', zorder=8))
put(33, 1188, 'TradingView', size=12.4, weight='semibold')

fig.savefig('out.png', dpi=100, facecolor='white')
